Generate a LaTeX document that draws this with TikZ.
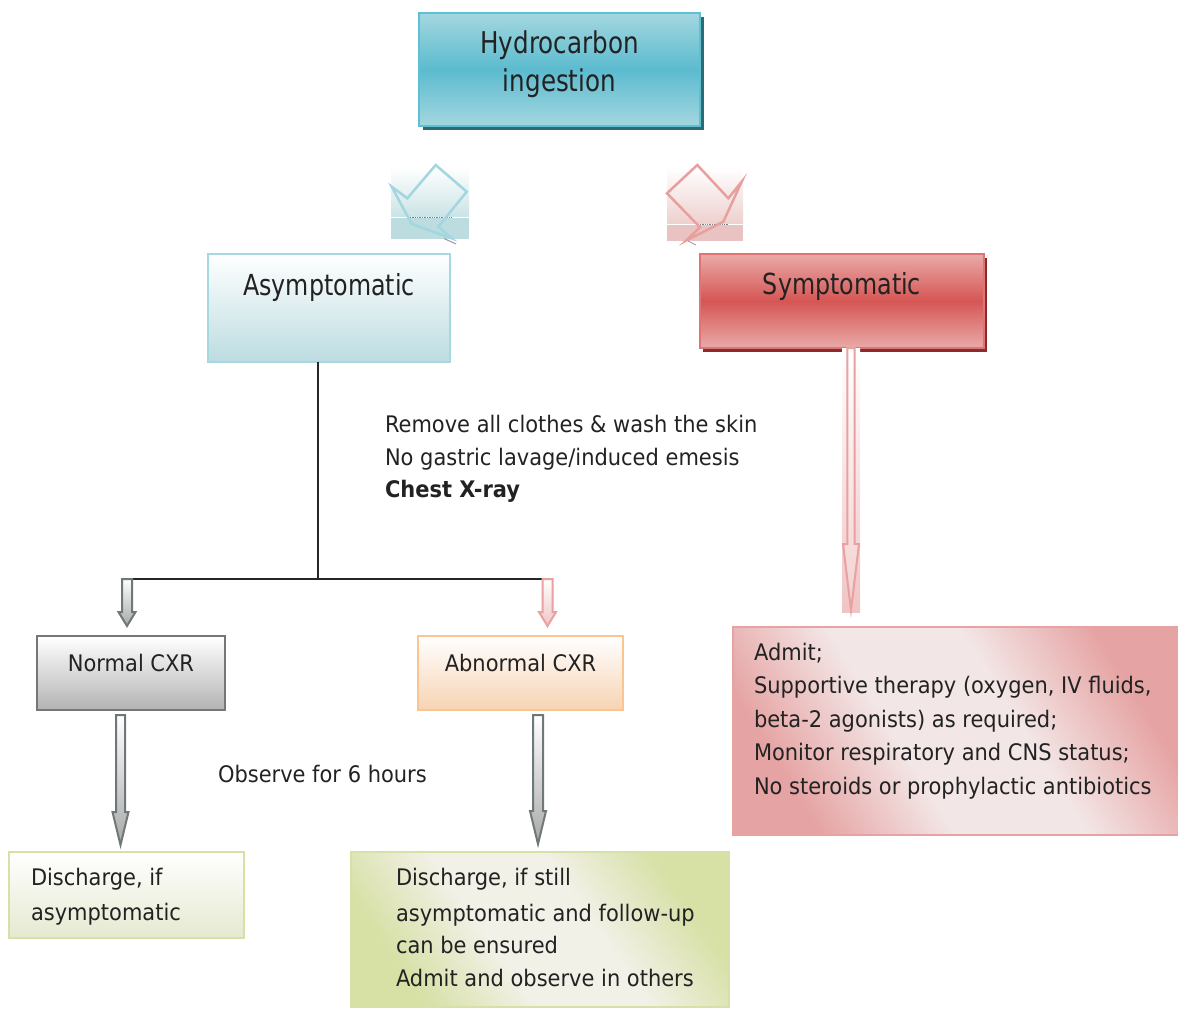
\documentclass[tikz,border=0pt]{standalone}
\usepackage{fontspec}
\setmainfont{DejaVu Sans}[FakeStretch=0.92]
\newfontfamily\headfont{DejaVu Sans}[FakeStretch=0.82]
\usetikzlibrary{calc,shadows}
\definecolor{txt}{HTML}{222222}
\definecolor{hcborder}{HTML}{5EC0D2}
\definecolor{hctop}{HTML}{A4D7E0}
\definecolor{hcmid}{HTML}{5BBBCF}
\definecolor{hcshadow}{HTML}{2B6C76}
\definecolor{asymborder}{HTML}{A6D8E0}
\definecolor{asymbot}{HTML}{BCDCE1}
\definecolor{sympborder}{HTML}{E07474}
\definecolor{symptop}{HTML}{E9AAA8}
\definecolor{sympmid}{HTML}{D55654}
\definecolor{sympshadow}{HTML}{8A2C2E}
\definecolor{grayborder}{HTML}{767676}
\definecolor{graybot}{HTML}{B3B3B3}
\definecolor{orborder}{HTML}{FBC592}
\definecolor{orbot}{HTML}{F7D3B3}
\definecolor{pinkborder}{HTML}{E7A3A3}
\definecolor{pinkfill}{HTML}{E6A3A3}
\definecolor{pinklight}{HTML}{F3E6E6}
\definecolor{greenborder}{HTML}{D5E1A7}
\definecolor{greenfill}{HTML}{D7E0A5}
\definecolor{greenlight}{HTML}{F2F1E8}
\definecolor{greenbot}{HTML}{E5E9D0}
\definecolor{trunk}{HTML}{262626}
\definecolor{decblue}{HTML}{A2D6E1}
\definecolor{decbluebg}{HTML}{BCDCE0}
\definecolor{decbluebgb}{HTML}{CBE3E6}
\definecolor{decpink}{HTML}{E8A09E}
\definecolor{decpinkbg}{HTML}{E9C3C1}
\definecolor{decpinkbgb}{HTML}{EDD0CE}
\definecolor{arrgray}{HTML}{6F7878}
\definecolor{arrgrayfill}{HTML}{A8A8A8}
\definecolor{arrpink}{HTML}{E8A0A0}
\definecolor{arrpinkfill}{HTML}{F0C4C4}

\pgfdeclareverticalshading{pinkdiag}{100bp}{color(0bp)=(pinkfill); color(26bp)=(pinkfill); color(42bp)=(pinklight); color(58bp)=(pinklight); color(74bp)=(pinkfill); color(100bp)=(pinkfill)}
\pgfdeclareverticalshading{greendiag}{100bp}{color(0bp)=(greenfill); color(26bp)=(greenfill); color(42bp)=(greenlight); color(58bp)=(greenlight); color(74bp)=(greenfill); color(100bp)=(greenfill)}

\newcommand\blockarrow[6]{%
  \path[#1] let \p1=#2, \p2=#3 in
    (\x1-#4,\y1) -- (\x1+#4,\y1) -- (\x1+#4,\y2+#6) -- (\x1+#5,\y2+#6)
    -- (\x1,\y2) -- (\x1-#5,\y2+#6) -- (\x1-#4,\y2+#6) -- cycle;}

\begin{document}
\begin{tikzpicture}[x=1pt,y=-1pt,
  every node/.style={inner sep=0pt, outer sep=0pt, text=txt},
  bodyfont/.style={font=\fontsize{22.8}{33.5}\selectfont},
  body/.style={bodyfont, anchor=base west},
  head/.style={font=\headfont\fontsize{29}{36}\selectfont},
  hcbox/.style={draw=hcborder, line width=2pt, top color=hctop, bottom color=hctop, middle color=hcmid,
    drop shadow={shadow xshift=4pt, shadow yshift=-4pt, fill=hcshadow, opacity=1}},
  asymbox/.style={draw=asymborder, line width=2pt, top color=white, bottom color=asymbot},
  sympbox/.style={draw=sympborder, line width=2pt, top color=symptop, bottom color=symptop, middle color=sympmid,
    drop shadow={shadow xshift=3pt, shadow yshift=-4pt, fill=sympshadow, opacity=1}},
  graybox/.style={draw=grayborder, line width=2.5pt, top color=white, bottom color=graybot},
  orbox/.style={draw=orborder, line width=2pt, top color=white, bottom color=orbot},
  pinkbox/.style={draw=pinkborder, line width=2pt, shading=pinkdiag, shading angle=-58},
  greenbox/.style={draw=greenborder, line width=2pt, shading=greendiag, shading angle=-55},
  greenbox1/.style={draw=greenborder, line width=2pt, top color=white, bottom color=greenbot},
  trunkline/.style={draw=trunk, line width=2pt},
  grayarrow/.style={draw=arrgray, line width=2pt, line join=miter, top color=white, bottom color=arrgrayfill},
  pinkarrow/.style={draw=arrpink, line width=2pt, line join=miter, top color=white, bottom color=arrpinkfill},
]
\useasboundingbox (0,0) rectangle (1178,1009);

% --- top box
\node[hcbox, minimum width=281pt, minimum height=113pt, anchor=north west] (hc) at (419,13) {};
\node[head, font=\headfont\fontsize{30}{36}\selectfont, anchor=base] (hct1) at (559.5,53.3) {Hydrocarbon};
\node[head, font=\headfont\fontsize{30}{36}\selectfont, anchor=base] (hct2) at (559.5,91.7) {ingestion};

% --- decorative blue arrow
\shade[top color=white, bottom color=decbluebgb] (391,167) rectangle (469,217);
\fill[decbluebg] (391,217) rectangle (469,239);
\draw[white, line width=1pt] (391,217) -- (469,217);
\draw[gray, densely dotted, line width=0.7pt] (410,217.5) -- (452,217.5);
\draw[decblue, line width=2.5pt, line join=miter]
  (391.7,186.7) -- (407.3,198.3) -- (435.7,165) -- (466.7,191.7) -- (438.3,226.7)
  -- (451.7,238.3) -- (411.7,224) -- cycle;
\draw[gray!80, line width=1pt] (444,238.5) -- (456,244);

% --- decorative pink arrow
\shade[top color=white, bottom color=decpinkbgb] (667,167) rectangle (743,224);
\fill[decpinkbg] (667,224) rectangle (743,241);
\draw[white, line width=1pt] (667,224) -- (743,224);
\draw[gray, densely dotted, line width=0.7pt] (700,224.5) -- (728,224.5);
\draw[decpink, line width=2.5pt, line join=miter]
  (667,193.3) -- (697.3,165) -- (728.3,198.3) -- (741.7,181.7) -- (723.3,221.7)
  -- (686,240.7) -- (700,227.3) -- cycle;
\draw[gray!80, line width=0.8pt] (688,241) -- (696,245);

% --- second level
\node[asymbox, head, minimum width=242pt, text height=41pt, text depth=67pt, anchor=north west] (asym) at (208,254) {Asymptomatic};
\node[sympbox, head, minimum width=284pt, text height=40.3pt, text depth=53.7pt, anchor=north west] (symp) at (700,254) {Symptomatic};

% --- trunk line
\coordinate (bj) at ($(asym.south)+(-11,217)$);
\draw[trunkline] ($(asym.south)+(-11,0)$) -- (bj);

% --- instructions
\node[body] (ins1) at (385,432) {Remove all clothes \& wash the skin};
\node[body] (ins2) at (385,465) {No gastric lavage/induced emesis};
\node[body, font=\bfseries\fontsize{22.8}{33.5}\selectfont] (ins3) at (385,497) {Chest X-ray};

% --- third level
\node[graybox, bodyfont, minimum width=188pt, text height=35.7pt, text depth=38.3pt, anchor=north west] (ncxr) at (37,636) {Normal CXR};
\node[orbox, bodyfont, minimum width=205pt, text height=35.7pt, text depth=38.3pt, anchor=north west] (acxr) at (418,636) {Abnormal CXR};

\coordinate (bl) at ($(ncxr.north)+(-4,-57)$);
\coordinate (br) at ($(acxr.north)+(27,-57)$);
\draw[trunkline] (bl) -- (br);
\blockarrow{grayarrow}{(bl)}{($(ncxr.north)+(0,-10)$)}{5pt}{8.5pt}{14pt}
\blockarrow{pinkarrow}{(br)}{($(acxr.north)+(0,-10)$)}{5pt}{8.5pt}{14pt}

% --- admit box
\node[pinkbox, minimum width=449pt, minimum height=208pt, anchor=north west] (adm) at (733,627) {};
\foreach \t [count=\i] in {{Admit;},{Supportive therapy (oxygen, IV fluids,},{beta-2 agonists) as required;},{Monitor respiratory and CNS status;},{No steroids or prophylactic antibiotics}}
  \node[body] (admt\i) at (754,{660+(\i-1)*33.5}) {\t};

% --- symptomatic arrow
\shade[top color=white, bottom color=arrpinkfill] ($(symp.south)+(0,0)$) rectangle ($(symp.south)+(18,264)$);
\blockarrow{pinkarrow, top color=white, bottom color=arrpinkfill!80}{($(symp.south)+(9,0)$)}{($(adm.north)+(0,-17)$)}{3.7pt}{8pt}{66pt}

% --- bottom boxes
\node[greenbox1, minimum width=235pt, minimum height=86pt, anchor=north west] (dis1) at (9,852) {};
\node[body] (dis1a) at (31,885) {Discharge, if};
\node[body] (dis1b) at (31,920) {asymptomatic};

\node[greenbox, minimum width=378pt, minimum height=155pt, anchor=north west] (dis2) at (351,852) {};
\node[body] (dis2a) at (396,885.7) {Discharge, if still};
\node[body] (dis2b) at (396,921) {asymptomatic and follow-up};
\node[body] (dis2c) at (396,953.5) {can be ensured};
\node[body] (dis2d) at (396,986.7) {Admit and observe in others};

\node[body] (obs) at (218,782.5) {Observe for 6 hours};

\blockarrow{grayarrow}{($(ncxr.south)+(-10.5,5)$)}{($(dis1.north)+(0,-7)$)}{4.5pt}{8pt}{33pt}
\blockarrow{grayarrow}{($(acxr.south)+(17.5,5)$)}{($(dis2.north)+(0,-8)$)}{5pt}{8pt}{33pt}

\end{tikzpicture}
\end{document}
